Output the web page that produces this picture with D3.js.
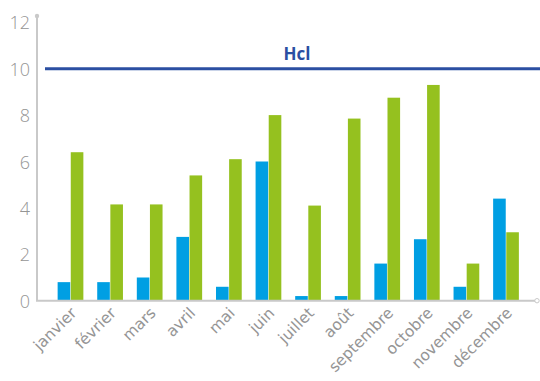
<!DOCTYPE html>
<html>
<head>
<meta charset="utf-8">
<script src="https://cdn.jsdelivr.net/npm/d3@7"></script>
<style>
  body { margin: 0; background: #fff; }
  svg text { font-family: "DejaVu Sans", "Open Sans", sans-serif; }
</style>
</head>
<body>
<svg id="chart"></svg>
<script>
var months = ["janvier","février","mars","avril","mai","juin","juillet","août","septembre","octobre","novembre","décembre"];
var blueValues = [0.8, 0.8, 1.0, 2.75, 0.6, 6.0, 0.2, 0.2, 1.6, 2.65, 0.6, 4.4];
var greenValues = [6.4, 4.15, 4.15, 5.4, 6.1, 8.0, 4.1, 7.85, 8.75, 9.3, 1.6, 2.95];
var yTicks = [0, 2, 4, 6, 8, 10, 12];
var hclValue = 10;
var hclLabel = "Hcl";

var screen = { width: 540, height: 381 };

var svg = d3.select("#chart")
            .attr("width", screen.width)
            .attr("height", screen.height);

var dataset = months.map(function(m, i) {
  return { month: m, a: blueValues[i], b: greenValues[i] };
});

// scales
var xScale = d3.scaleBand()
               .domain(months)
               .range([50.7, 525.8])
               .paddingInner(0.35)
               .paddingOuter(0.175);

var xSub = d3.scaleBand()
             .domain(["a","b"])
             .range([0, xScale.bandwidth()])
             .paddingInner(0.04);

var yScale = d3.scaleLinear()
               .domain([0, 12])
               .range([300.7, 22.3]);

var colors = { a: "#009fe3", b: "#95c11f" };
var axisColor = "#c9c9c9";
var hclColor = "#2b4fa2";
var labelColor = "#959595";

// y axis line with dot on top
svg.append("line")
   .attr("x1", 37).attr("x2", 37)
   .attr("y1", 16).attr("y2", yScale(0))
   .attr("stroke", axisColor).attr("stroke-width", 2);
svg.append("circle")
   .attr("cx", 37).attr("cy", 16).attr("r", 2.2)
   .attr("fill", axisColor);

// y tick labels
svg.selectAll(".ytick")
   .data(yTicks)
   .enter()
   .append("text")
   .attr("class", "ytick")
   .attr("x", 30)
   .attr("y", function(d) { return yScale(d) + 7; })
   .attr("text-anchor", "end")
   .attr("fill", labelColor)
   .style("font-family", "'Open Sans', sans-serif")
   .style("font-size", "18px")
   .style("font-weight", 300)
   .text(function(d) { return d; });

// bars
var groups = svg.selectAll(".grp")
                .data(dataset)
                .enter()
                .append("g")
                .attr("class", "grp")
                .attr("transform", function(d) { return "translate(" + xScale(d.month) + ",0)"; });

groups.selectAll("rect")
      .data(function(d) { return [{k: "a", v: d.a}, {k: "b", v: d.b}]; })
      .enter()
      .append("rect")
      .attr("x", function(d) { return xSub(d.k); })
      .attr("width", xSub.bandwidth())
      .attr("y", function(d) { return yScale(d.v); })
      .attr("height", function(d) { return yScale(0) - yScale(d.v); })
      .attr("fill", function(d) { return colors[d.k]; });

// x axis line
svg.append("line")
   .attr("x1", 36).attr("x2", 536)
   .attr("y1", yScale(0)).attr("y2", yScale(0))
   .attr("stroke", axisColor).attr("stroke-width", 2);
svg.append("circle")
   .attr("cx", 537).attr("cy", yScale(0)).attr("r", 2.2)
   .attr("fill", "#fff").attr("stroke", axisColor).attr("stroke-width", 1);

// month labels
svg.selectAll(".xlab")
   .data(months)
   .enter()
   .append("text")
   .attr("class", "xlab")
   .attr("text-anchor", "end")
   .attr("fill", labelColor)
   .style("font-size", "15.5px")
   .attr("transform", function(d) {
     return "translate(" + (xScale(d) + xScale.bandwidth() / 2 + 7) + "," + 314 + ") rotate(-45)";
   })
   .text(function(d) { return d; });

// Hcl line
svg.append("line")
   .attr("x1", 45).attr("x2", 540)
   .attr("y1", yScale(hclValue)).attr("y2", yScale(hclValue))
   .attr("stroke", hclColor).attr("stroke-width", 3);

svg.append("text")
   .attr("x", 297)
   .attr("y", 60)
   .attr("text-anchor", "middle")
   .attr("fill", hclColor)
   .style("font-family", "'Open Sans', sans-serif")
   .style("font-size", "17px")
   .style("font-weight", "bold")
   .text(hclLabel);
</script>
</body>
</html>
